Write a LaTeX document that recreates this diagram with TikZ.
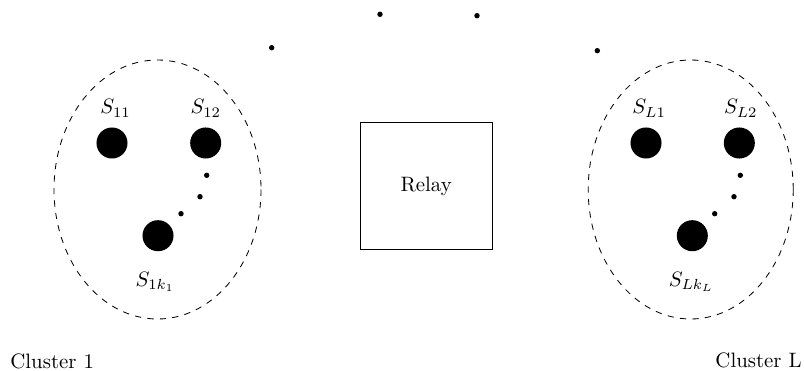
\documentclass[tikz,border=0pt]{standalone}
\begin{document}
\begin{tikzpicture}[x=0.48pt,y=-0.48pt,
  sensor/.style={circle,fill=black,inner sep=0pt,minimum size=14.9pt},
  smalldot/.style={circle,fill=black,inner sep=0pt,minimum size=2.6pt},
  cluster/.style={draw,dashed},
  relaybox/.style={draw,rectangle,minimum width=63.5pt,minimum height=61pt,inner sep=0pt},
  lbl/.style={anchor=base,inner sep=0pt}]
\useasboundingbox (0,0) rectangle (804,371);

% clusters
\coordinate (c1) at (157.5,189.5);
\coordinate (cL) at (690.7,189.5);
\draw[cluster] (c1) ellipse [x radius=103.5,y radius=129.5];
\draw[cluster] (cL) ellipse [x radius=102.5,y radius=129.5];

% cluster 1 sensors
\node[sensor] (s11) at (112,143) {};
\node[sensor] (s12) at (205.7,143) {};
\node[sensor] (s1k) at (158,235.7) {};
\node[smalldot] (d1a) at (206.7,175.3) {};
\node[smalldot] (d1b) at (200,196.7) {};
\node[smalldot] (d1c) at (181,213.7) {};
\node[lbl] (l11) at (115.5,114) {$S_{11}$};
\node[lbl] (l12) at (205.8,114) {$S_{12}$};
\node[lbl] (l1k) at (155.2,286) {$S_{1k_1}$};

% cluster L sensors
\node[sensor] (sL1) at (646,143) {};
\node[sensor] (sL2) at (739.3,143) {};
\node[sensor] (sLk) at (692.3,235.7) {};
\node[smalldot] (dLa) at (740.3,175.3) {};
\node[smalldot] (dLb) at (734,196.7) {};
\node[smalldot] (dLc) at (714.7,213.7) {};
\node[lbl] (lL1) at (649.2,114) {$S_{L1}$};
\node[lbl] (lL2) at (740.8,114) {$S_{L2}$};
\node[lbl] (lLk) at (691.3,286) {$S_{Lk_L}$};

% relay
\node[relaybox] (relay) at (426.2,186.3) {Relay};

% dots between the clusters
\node[smalldot] (t1) at (271.7,47.7) {};
\node[smalldot] (t2) at (380,14.3) {};
\node[smalldot] (t3) at (477,15.7) {};
\node[smalldot] (t4) at (597.3,50.7) {};

% cluster names
\node[anchor=base west,inner sep=0pt] (n1) at (10,368) {Cluster 1};
\node[anchor=base east,inner sep=0pt] (nL) at (802,367) {Cluster L};
\end{tikzpicture}
\end{document}
